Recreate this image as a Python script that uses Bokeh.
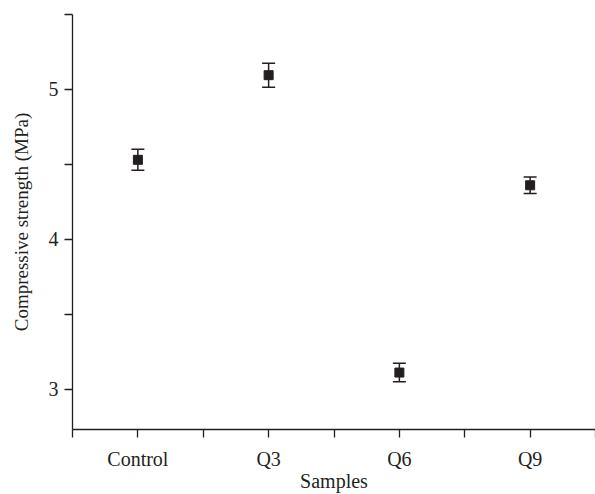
from bokeh.plotting import figure
from bokeh.models import ColumnDataSource, Whisker, TeeHead, FixedTicker, Range1d
from bokeh.embed import file_html
from bokeh.resources import INLINE

categories = ["Control", "Q3", "Q6", "Q9"]
strength = [4.53, 5.095, 3.11, 4.36]
error = [0.07, 0.08, 0.062, 0.055]

xs = list(range(len(categories)))
src = ColumnDataSource(dict(
    x=xs, y=strength,
    upper=[v + e for v, e in zip(strength, error)],
    lower=[v - e for v, e in zip(strength, error)],
))

FONT = "Liberation Serif"
INK = "#231f20"

p = figure(width=595, height=494, output_backend="svg", toolbar_location=None,
           x_range=Range1d(-0.5, 3.5), y_range=Range1d(2.73, 5.5),
           min_border_left=72, min_border_right=0, min_border_top=14, min_border_bottom=65)
p.outline_line_color = None
p.grid.visible = False
p.background_fill_color = "white"

w = Whisker(source=src, base="x", upper="upper", lower="lower",
            line_color=INK, line_width=1.5,
            upper_head=TeeHead(size=13, line_color=INK, line_width=1.5),
            lower_head=TeeHead(size=13, line_color=INK, line_width=1.5))
p.add_layout(w)
p.scatter("x", "y", source=src, marker="square", size=9, color=INK)

for ax in (p.xaxis[0], p.yaxis[0]):
    ax.axis_line_color = INK
    ax.axis_line_width = 1.3
    ax.major_tick_line_color = INK
    ax.minor_tick_line_color = INK
    ax.major_tick_line_width = 1.3
    ax.minor_tick_line_width = 1.3
    ax.major_tick_in = 0
    ax.major_tick_out = 8
    ax.minor_tick_in = 0
    ax.minor_tick_out = 8
    ax.major_label_text_font = FONT
    ax.major_label_text_font_size = "20px"
    ax.major_label_text_color = INK
    ax.axis_label_text_font = FONT
    ax.axis_label_text_font_size = "20px"
    ax.axis_label_text_font_style = "normal"
    ax.axis_label_text_color = INK

p.xaxis.ticker = FixedTicker(ticks=xs, minor_ticks=[-0.5, 0.5, 1.5, 2.5, 3.5])
p.xaxis.major_label_overrides = {i: c for i, c in enumerate(categories)}
p.xaxis.axis_label = "Samples"
p.xaxis.major_label_standoff = 10
p.xaxis.axis_label_standoff = -3

p.yaxis.ticker = FixedTicker(ticks=[3, 4, 5], minor_ticks=[3.5, 4.5, 5.5])
p.yaxis.axis_label = "Compressive strength (MPa)"
p.yaxis.axis_label_text_font_size = "19px"
p.yaxis.major_label_standoff = 6
p.yaxis.axis_label_standoff = 14

open("out.html", "w").write(file_html(p, INLINE))
